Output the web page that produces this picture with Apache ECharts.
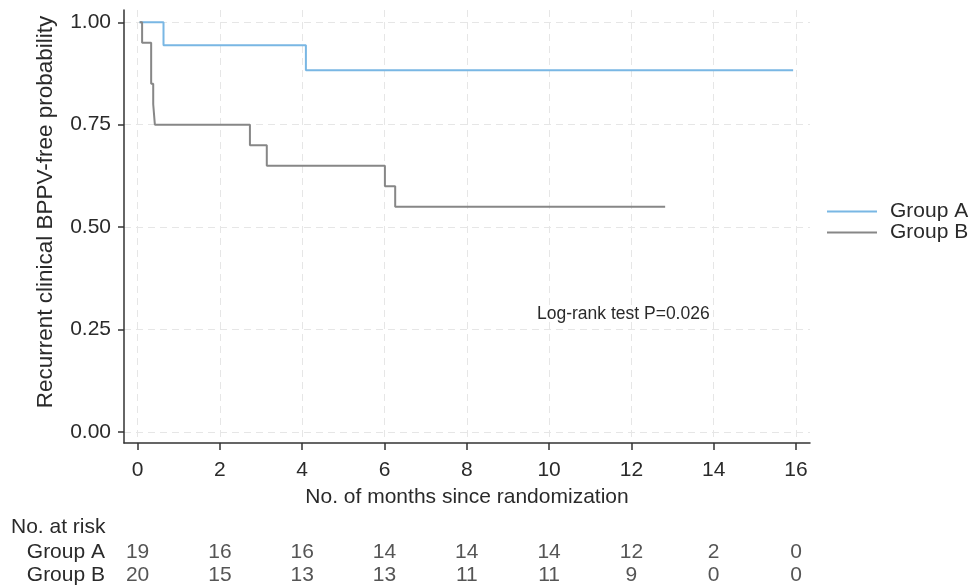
<!DOCTYPE html>
<html>
<head>
<meta charset="utf-8">
<script src="https://cdn.jsdelivr.net/npm/echarts@6/dist/echarts.min.js"></script>
<style>html,body{margin:0;padding:0;background:#fff;}#c{width:970px;height:587px;}</style>
</head>
<body>
<div id="c"></div>
<script>
// Kaplan-Meier step points [month, survival probability]
const groupA = [[0.05, 1.0], [0.63, 0.944], [4.09, 0.883], [15.93, 0.883]];
const groupB = [[0.05, 1.0], [0.11, 0.95], [0.33, 0.85], [0.38, 0.80], [0.42, 0.75],
                [2.73, 0.70], [3.14, 0.65], [6.01, 0.60], [6.26, 0.55], [12.82, 0.55]];
const xTicks = [0, 2, 4, 6, 8, 10, 12, 14, 16];
const yTicks = [0, 0.25, 0.5, 0.75, 1.0];
const riskRows = ['Group A', 'Group B'];
const riskA = [19, 16, 16, 14, 14, 14, 12, 2, 0];
const riskB = [20, 15, 13, 13, 11, 11, 9, 0, 0];
const seriesNames = ['Group A', 'Group B'];
const pValueText = 'Log-rank test P=0.026';
const yTitle = 'Recurrent clinical BPPV-free probability';
const xTitle = 'No. of months since randomization';

const FONT = 'Liberation Sans, Arial, sans-serif';
const TXT = '#2a2a2a';
const FS = 21;
const riskData = [];
xTicks.forEach((t, i) => {
  riskData.push([t, 0, riskA[i]]);
  riskData.push([t, 1, riskB[i]]);
});

const chart = echarts.init(document.getElementById('c'), null, {renderer: 'canvas'});
chart.setOption({
  animation: false,
  backgroundColor: '#fff',
  textStyle: {fontFamily: FONT},
  grid: [
    {left: 124, right: 160, top: 10, bottom: 144},
    {left: 124, right: 160, top: 541, height: 46}
  ],
  title: [
    {text: 'No. at risk', left: 6, top: 512, textStyle: {fontFamily: FONT, fontSize: FS, fontWeight: 'normal', color: TXT}},
    {text: pValueText, left: 532, top: 300, textStyle: {fontFamily: FONT, fontSize: 17.5, fontWeight: 'normal', color: TXT}}
  ],
  graphic: [
    {type: 'text', x: 46, y: 212, rotation: Math.PI / 2, silent: true,
     style: {text: yTitle, fill: TXT, font: '22.5px ' + FONT, align: 'center', verticalAlign: 'middle'}}
  ],
  legend: {
    orient: 'vertical', left: 822, top: 196,
    itemWidth: 50, itemHeight: 2, itemGap: 0, icon: 'rect',
    textStyle: {fontFamily: FONT, fontSize: FS, color: TXT, lineHeight: 21, padding: [0, 0, 0, 8]},
    data: seriesNames
  },
  xAxis: [
    {
      gridIndex: 0, type: 'value', min: -0.33, max: 16.34,
      name: xTitle, nameLocation: 'middle', nameGap: 44,
      nameTextStyle: {fontFamily: FONT, fontSize: FS, color: TXT},
      axisLine: {show: true, onZero: false, lineStyle: {color: '#333', width: 1.5}},
      axisTick: {show: true, length: 7, customValues: xTicks, lineStyle: {color: '#333', width: 1.5}},
      axisLabel: {customValues: xTicks, margin: 17, fontSize: FS, color: TXT, fontFamily: FONT},
      splitLine: {show: true, lineStyle: {color: '#e6e6e6', type: [7, 5], width: 1}}
    },
    {
      gridIndex: 1, type: 'value', min: -0.33, max: 16.34, show: false
    }
  ],
  yAxis: [
    {
      gridIndex: 0, type: 'value', min: -0.027, max: 1.03,
      axisLine: {show: true, onZero: false, lineStyle: {color: '#333', width: 1.5}},
      axisTick: {show: true, length: 6, customValues: yTicks, lineStyle: {color: '#333', width: 1.5}},
      axisLabel: {customValues: yTicks, margin: 13, fontSize: FS, color: TXT, fontFamily: FONT,
                  formatter: v => v.toFixed(2)},
      splitLine: {show: true, lineStyle: {color: '#e6e6e6', type: [7, 5], width: 1}}
    },
    {
      gridIndex: 1, type: 'category', data: riskRows, inverse: true,
      axisLine: {show: false}, axisTick: {show: false}, splitLine: {show: false},
      axisLabel: {interval: 0, margin: 19, fontSize: FS, color: TXT, fontFamily: FONT}
    }
  ],
  series: [
    {
      name: seriesNames[0], type: 'line', step: 'end', xAxisIndex: 0, yAxisIndex: 0,
      data: groupA, symbol: 'none', color: '#79b7e4',
      lineStyle: {color: '#79b7e4', width: 2}
    },
    {
      name: seriesNames[1], type: 'line', step: 'end', xAxisIndex: 0, yAxisIndex: 0,
      data: groupB, symbol: 'none', color: '#878787',
      lineStyle: {color: '#878787', width: 2}
    },
    {
      name: 'risk', type: 'scatter', xAxisIndex: 1, yAxisIndex: 1,
      data: riskData, symbolSize: 1, itemStyle: {color: 'rgba(0,0,0,0)'},
      label: {show: true, position: 'inside', formatter: p => String(p.value[2]),
              fontSize: FS, color: TXT, fontFamily: FONT},
      silent: true
    }
  ]
});
</script>
</body>
</html>
